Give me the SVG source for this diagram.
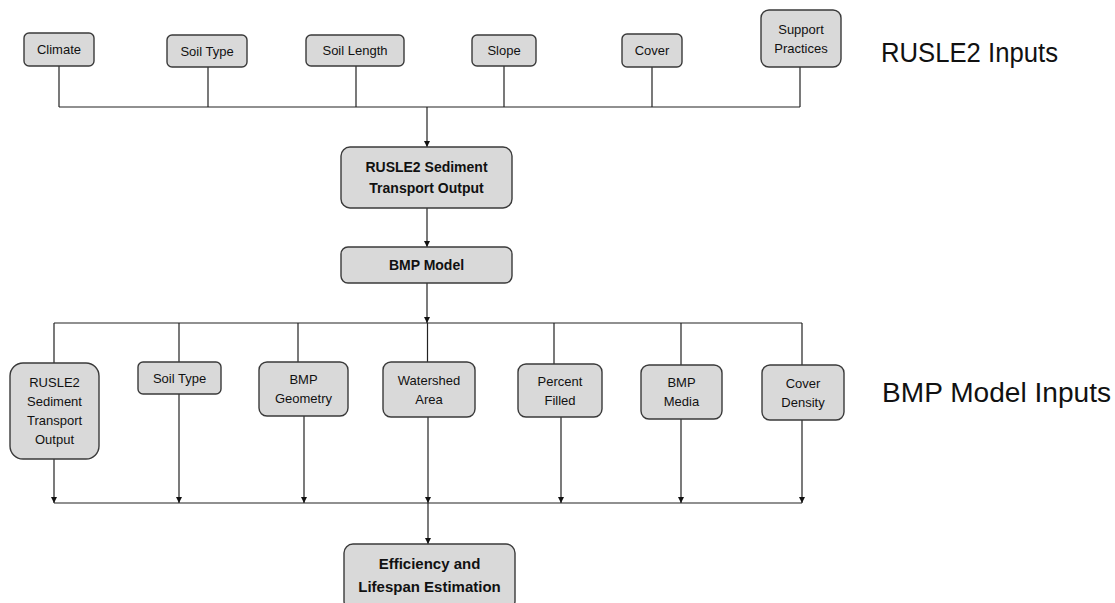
<svg xmlns="http://www.w3.org/2000/svg" width="1115" height="603" viewBox="0 0 1115 603">
<style>
  .box { fill: #d9d9d9; stroke: #3a3a3a; stroke-width: 1.4; }
  .t { font-family: "Liberation Sans", Arial, sans-serif; font-size: 13px; fill: #111; text-anchor: middle; }
  .tb { font-family: "Liberation Sans", Arial, sans-serif; font-size: 14px; font-weight: bold; fill: #111; text-anchor: middle; }
  .big { font-family: "Liberation Sans", Arial, sans-serif; font-size: 27px; fill: #111; }
  .ln { fill: none; stroke: #222; stroke-width: 1.2; }
  .ar { fill: none; stroke: #222; stroke-width: 1.2; marker-end: url(#ah); }
</style>
<defs>
  <marker id="ah" viewBox="0 0 10 10" refX="10" refY="5" markerWidth="6" markerHeight="6" markerUnits="userSpaceOnUse" orient="auto">
    <path d="M0,0 L10,5 L0,10 z" fill="#111"/>
  </marker>
</defs>
<rect width="1115" height="603" fill="#fff"/>

<g id="connectors">
  <!-- top inputs -->
  <path class="ln" d="M59,66 V107 M208,67 V107 M356,66 V107 M504,66 V107 M652,67 V107 M800,67 V107 M59,107 H800"/>
  <path class="ar" d="M427,107 V147"/>
  <path class="ar" d="M427,208 V247"/>
  <path class="ar" d="M427,283 V323"/>
  <!-- BMP model inputs distribution -->
  <path class="ln" d="M54,323 H802 M54,323 V363 M179,323 V362 M298,323 V362 M427.5,323 V362 M554,323 V364 M681,323 V365 M802,323 V365"/>
  <path class="ar" d="M54,459 V503"/>
  <path class="ar" d="M179,394 V503"/>
  <path class="ar" d="M304,416 V503"/>
  <path class="ar" d="M428,417 V503"/>
  <path class="ar" d="M561,417 V503"/>
  <path class="ar" d="M681,419 V503"/>
  <path class="ar" d="M802,420 V503"/>
  <path class="ln" d="M54,503 H802"/>
  <path class="ar" d="M428,503 V544"/>
</g>

<g id="climate"><rect class="box" x="24" y="33" width="70" height="33" rx="5"/><text class="t" x="59" y="54.2">Climate</text></g>
<g id="soiltype-top"><rect class="box" x="167" y="35" width="80" height="32" rx="5"/><text class="t" x="207" y="55.7">Soil Type</text></g>
<g id="soillength"><rect class="box" x="306" y="35" width="98" height="31" rx="5"/><text class="t" x="355" y="55.2">Soil Length</text></g>
<g id="slope"><rect class="box" x="472" y="35" width="64" height="31" rx="5"/><text class="t" x="504" y="55.2">Slope</text></g>
<g id="cover"><rect class="box" x="622" y="34" width="60" height="33" rx="5"/><text class="t" x="652" y="55.2">Cover</text></g>
<g id="support"><rect class="box" x="761" y="10" width="80" height="57" rx="8"/><text class="t" x="801" y="33.5">Support</text><text class="t" x="801" y="52.5">Practices</text></g>

<g id="label-rusle2"><text class="big" x="881" y="61.5" textLength="177" lengthAdjust="spacingAndGlyphs">RUSLE2 Inputs</text></g>

<g id="rusle2-output"><rect class="box" x="341" y="147" width="171" height="61" rx="9"/><text class="tb" x="426.5" y="172">RUSLE2 Sediment</text><text class="tb" x="426.5" y="193">Transport Output</text></g>
<g id="bmp-model"><rect class="box" x="341" y="247" width="171" height="36" rx="7"/><text class="tb" x="426.5" y="270">BMP Model</text></g>

<g id="rusle2-input"><rect class="box" x="10" y="363" width="89" height="96" rx="13"/><text class="t" x="54.5" y="387">RUSLE2</text><text class="t" x="54.5" y="406">Sediment</text><text class="t" x="54.5" y="425">Transport</text><text class="t" x="54.5" y="444">Output</text></g>
<g id="soiltype-bottom"><rect class="box" x="138" y="362" width="83" height="32" rx="5"/><text class="t" x="179.5" y="382.5">Soil Type</text></g>
<g id="bmp-geometry"><rect class="box" x="259" y="362" width="89" height="54" rx="8"/><text class="t" x="303.5" y="384.2">BMP</text><text class="t" x="303.5" y="403.2">Geometry</text></g>
<g id="watershed-area"><rect class="box" x="383" y="362" width="92" height="55" rx="8"/><text class="t" x="429" y="384.7">Watershed</text><text class="t" x="429" y="403.7">Area</text></g>
<g id="percent-filled"><rect class="box" x="518" y="364" width="84" height="53" rx="8"/><text class="t" x="560" y="385.7">Percent</text><text class="t" x="560" y="404.7">Filled</text></g>
<g id="bmp-media"><rect class="box" x="641" y="365" width="81" height="54" rx="8"/><text class="t" x="681.5" y="387.2">BMP</text><text class="t" x="681.5" y="406.2">Media</text></g>
<g id="cover-density"><rect class="box" x="762" y="365" width="82" height="55" rx="8"/><text class="t" x="803" y="387.7">Cover</text><text class="t" x="803" y="406.7">Density</text></g>

<g id="label-bmp"><text class="big" x="882" y="402" textLength="229" lengthAdjust="spacingAndGlyphs">BMP Model Inputs</text></g>

<g id="efficiency"><rect class="box" x="344" y="544" width="171" height="66" rx="9"/><text class="tb" x="429.5" y="569" style="font-size:15px">Efficiency and</text><text class="tb" x="429.5" y="592" style="font-size:15px">Lifespan Estimation</text></g>
</svg>
